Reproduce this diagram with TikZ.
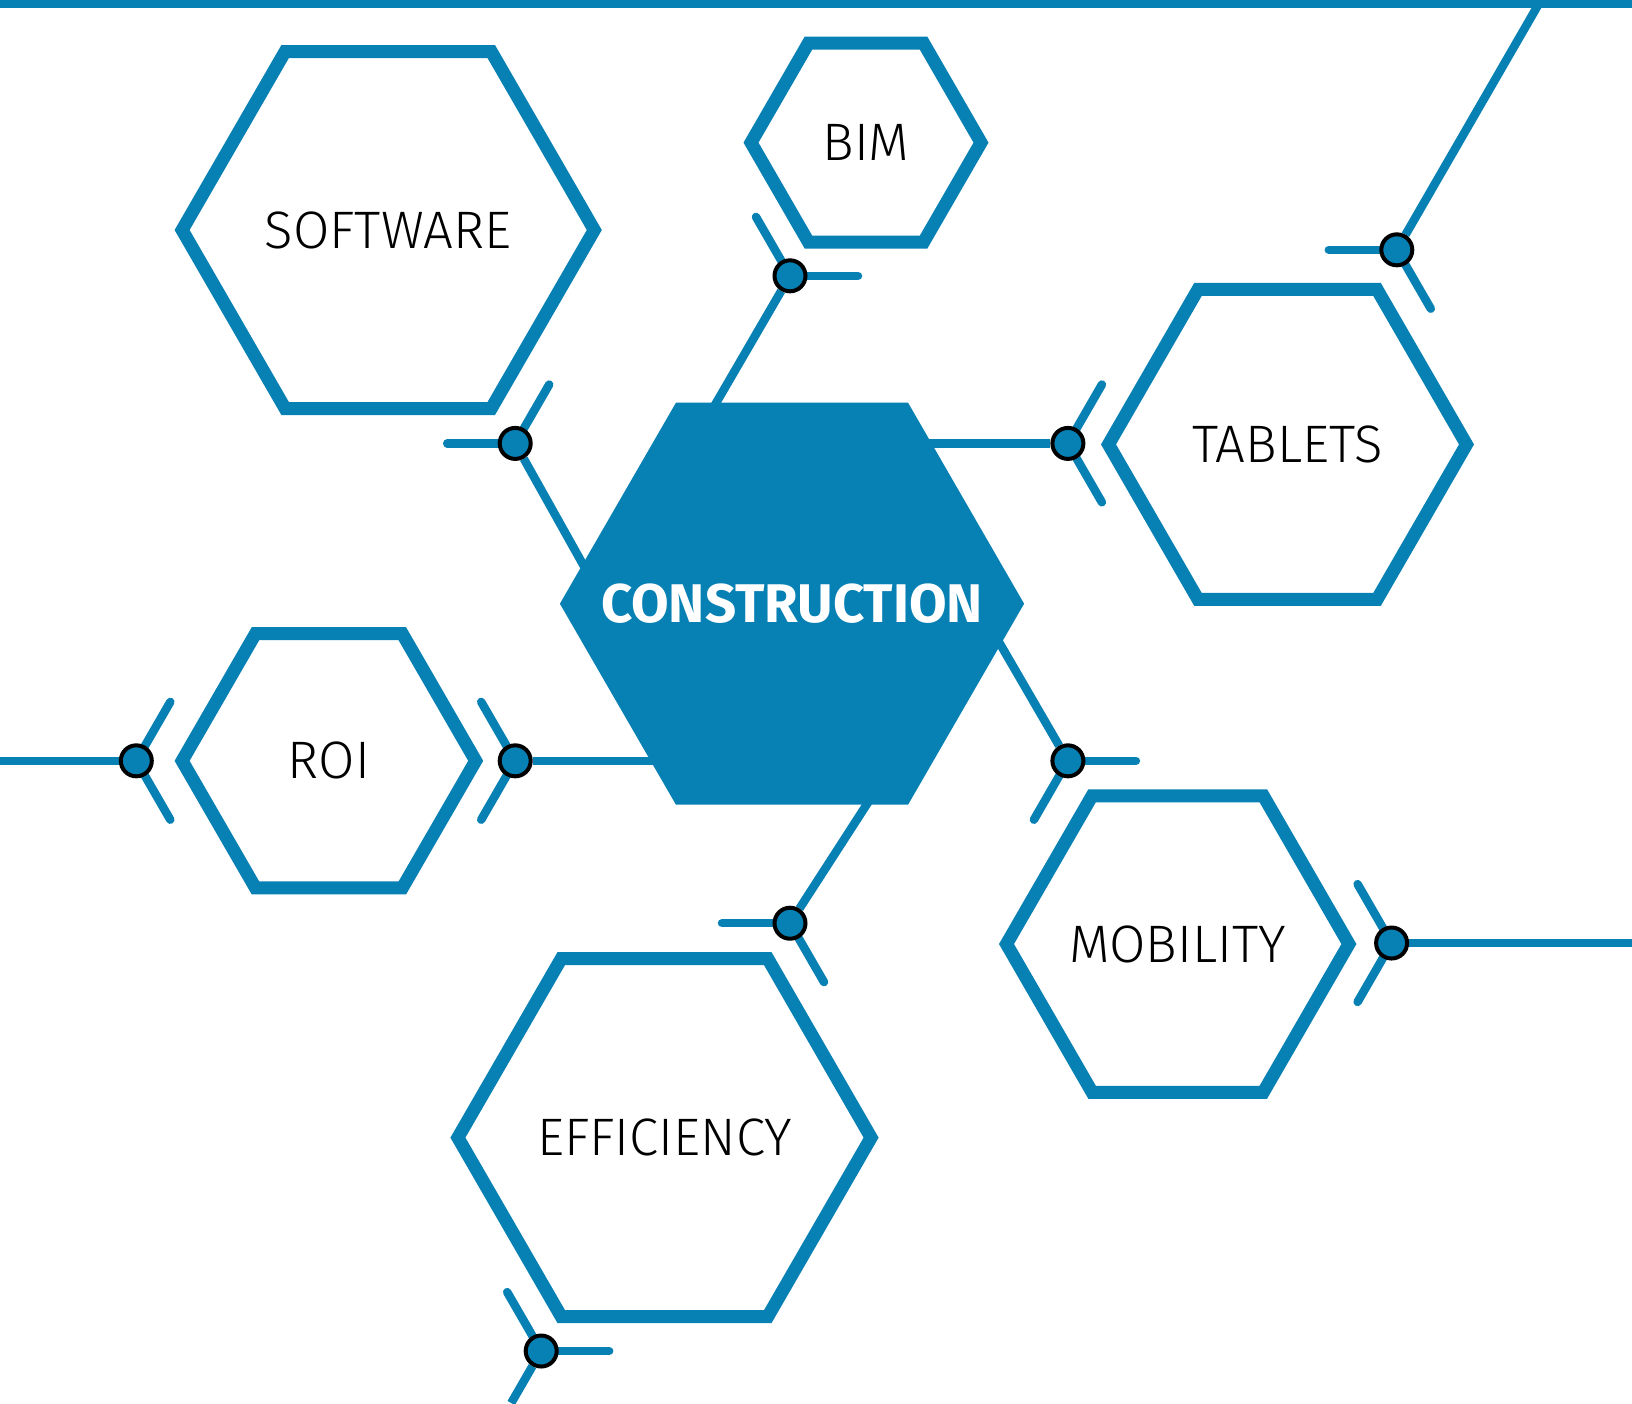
\documentclass[tikz,border=0pt]{standalone}
\usepackage{fontspec}
\setmainfont{Fira Sans}
\newfontfamily\thinfont{Fira Sans Light}
\usetikzlibrary{backgrounds}
\definecolor{hexblue}{HTML}{0780B4}

\begin{document}
\begin{tikzpicture}[x=0.1mm, y=-0.1mm,
  label/.style={inner sep=0pt, font=\thinfont\fontsize{15}{18}\selectfont},
  hub/.style={inner sep=0pt, text=white, font=\bfseries\fontsize{15.5}{18}\selectfont},
  rim/.style={draw=hexblue, line width=1.3mm},
  joint/.style={circle, draw=black, fill=hexblue, line width=0.4mm, minimum size=3.1mm, inner sep=0pt},
  link/.style={draw=hexblue, line width=0.85mm},
  stub/.style={link, line cap=round}]

\useasboundingbox (0,0) rectangle (1632,1403);

\node[hub] (con) at (792,603.7) {CONSTRUCTION};
\node[label] (soft) at (388.2,230) {SOFTWARE};
\node[label] (bim) at (866,142.6) {BIM};
\node[label] (tab) at (1287.5,444.4) {TABLETS};
\node[label] (roi) at (328.9,760.8) {ROI};
\node[label] (mob) at (1177.7,944) {MOBILITY};
\node[label] (eff) at (664.5,1137.6) {EFFICIENCY};

\node[joint] (j1) at (790,275.8) {};
\node[joint] (j2) at (515.2,443.4) {};
\node[joint] (j3) at (1067.9,443.4) {};
\node[joint] (j4) at (1396.8,249.8) {};
\node[joint] (j5) at (1067.9,760.8) {};
\node[joint] (j6) at (790,923.2) {};
\node[joint] (j7) at (515.2,760.8) {};
\node[joint] (j8) at (136.3,760.8) {};
\node[joint] (j9) at (1391.6,943) {};
\node[joint] (j10) at (541.2,1351) {};

\coordinate (topl) at (0,4);
\coordinate (topr) at (1632,4);
\coordinate (e1) at (712,410);
\coordinate (e2) at (590,577);
\coordinate (e3) at (920,443.4);
\coordinate (e4) at (1538.7,4);
\coordinate (e5) at (992,630);
\coordinate (e6) at (872.8,795);
\coordinate (e7) at (660,760.8);
\coordinate (e8) at (0,760.8);
\coordinate (e9) at (1632,943);
\coordinate (e10) at (511.2,1403);

\begin{scope}[on background layer]
\draw[link] (topl) -- (topr);
\draw[link] (j1) -- (e1);
\draw[link] (j2) -- (e2);
\draw[link] (j3) -- (e3);
\draw[link] (j4) -- (e4);
\draw[link] (j5) -- (e5);
\draw[link] (j6) -- (e6);
\draw[link] (j7) -- (e7);
\draw[link] (j8) -- (e8);
\draw[link] (j9) -- (e9);
\draw[link] (j10) -- (e10);
\foreach \j/\a in {j1/240, j1/0, j2/300, j2/180, j3/300, j3/60, j4/180, j4/60,
    j5/0, j5/120, j6/180, j6/60, j7/240, j7/120, j8/300, j8/60,
    j9/240, j9/120, j10/240, j10/0} {
  \path (\j.center) ++(\a:68) coordinate (\j-\a);
  \draw[stub] (\j.center) -- (\j-\a);
}
\fill[hexblue] (con.center) +(0:232.1) -- +(60:232.1) -- +(120:232.1) -- +(180:232.1)
  -- +(240:232.1) -- +(300:232.1) -- cycle;
\foreach \n/\r in {soft/206.1, bim/115, tab/179, roi/146.8, mob/171.2, eff/206.6}
  \draw[rim] (\n.center) +(0:\r) -- +(60:\r) -- +(120:\r) -- +(180:\r)
    -- +(240:\r) -- +(300:\r) -- cycle;
\end{scope}
\end{tikzpicture}
\end{document}
